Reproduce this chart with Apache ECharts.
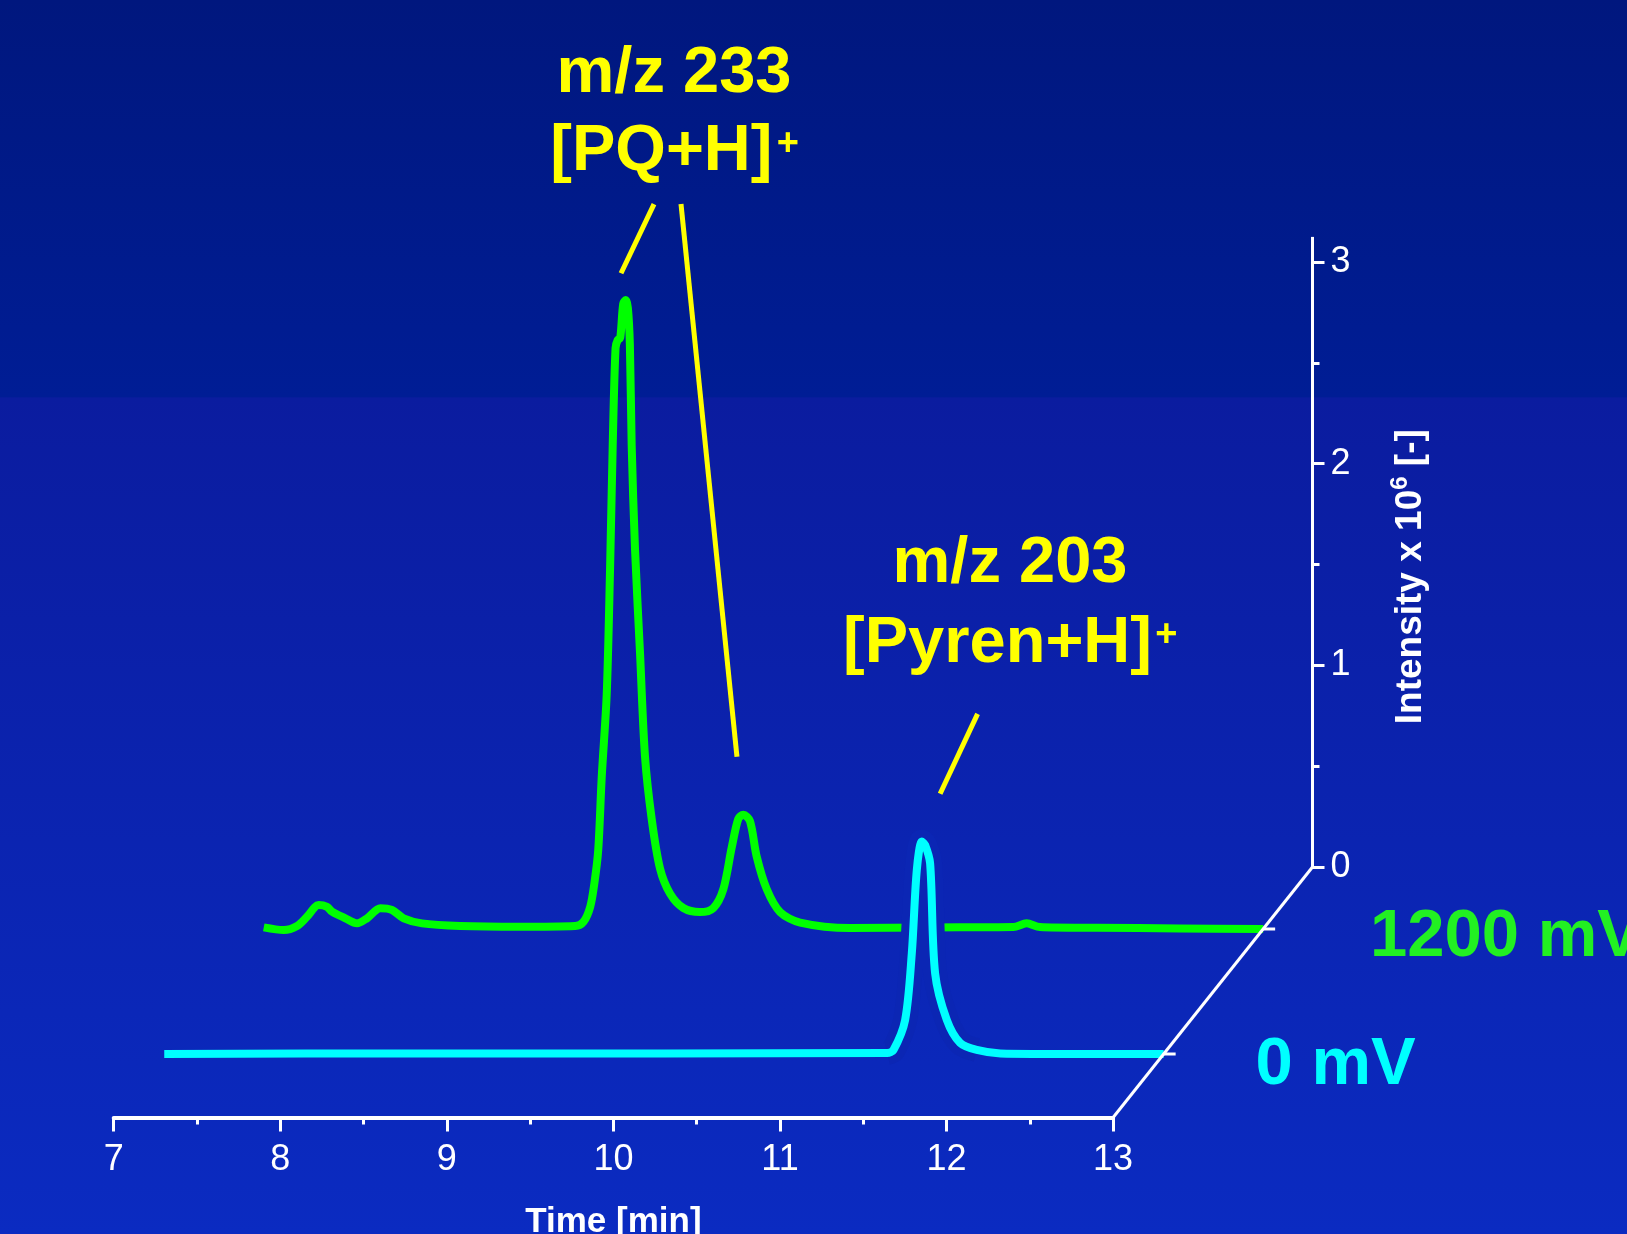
<!DOCTYPE html>
<html><head><meta charset="utf-8">
<script src="https://cdn.jsdelivr.net/npm/echarts@6/dist/echarts.min.js"></script>
<style>html,body{margin:0;padding:0;background:#0b22aa;overflow:hidden}#c{width:1627px;height:1234px}</style>
</head><body><div id="c"></div>
<script>
// ---------- data ----------
const greenTime = [7.00,7.12,7.20,7.26,7.33,7.38,7.41,7.49,7.56,7.62,7.70,7.77,7.84,7.95,8.18,8.53,8.87,8.92,8.96,8.985,9.008,9.029,9.059,9.079,9.095,9.112,9.125,9.14,9.158,9.173,9.186,9.198,9.209,9.229,9.259,9.289,9.329,9.379,9.439,9.519,9.619,9.699,9.759,9.809,9.849,9.879,9.919,9.959,10.02,10.10,10.22,10.52,11.0,11.50,11.58,11.66,12.0,12.5,13.0];
const greenInt  = [0.008,-0.005,0.015,0.061,0.119,0.110,0.086,0.053,0.028,0.053,0.103,0.094,0.053,0.028,0.015,0.011,0.015,0.036,0.110,0.227,0.390,0.752,1.163,1.780,2.396,2.880,2.920,2.930,3.100,3.118,3.080,2.900,2.396,1.882,1.368,0.854,0.546,0.300,0.176,0.104,0.084,0.104,0.197,0.402,0.546,0.567,0.535,0.361,0.197,0.084,0.032,0.005,0.008,0.010,0.028,0.010,0.006,0.003,0.000];
const cyanTime  = [7.0,8.5,10.0,11.34,11.378,11.448,11.488,11.518,11.548,11.568,11.598,11.628,11.698,11.778,11.878,12.02,12.5,13.0];
const cyanInt   = [0.000,0.003,0.003,0.005,0.020,0.169,0.499,0.912,1.053,1.036,0.945,0.400,0.169,0.055,0.020,0.003,0.000,0.000];
const timeTicks = [7,8,9,10,11,12,13];
const intensityTicks = [0,1,2,3];
// leader lines (data coordinates of each trace)
const greenLeaders = [[[9.343,3.594],[9.145,3.251]],[[9.505,3.594],[9.841,0.854]]];
const cyanLeaders  = [[[11.883,1.686],[11.658,1.29]]];

// ---------- layout ----------
const FONT = 'Liberation Sans, Arial, sans-serif';
const FRONT_LEFT = 113.7, AXIS_W = 999.4, FRONT_BASE = 1117.5;
const DEPTH_DX = 199.4, DEPTH_DY = -250.5, PX_PER_UNIT = 201.7;
const DEPTH_CYAN = 0.2535, DEPTH_GREEN = 0.7525;
const TRACE_MAX = 4;
const BAND_COLOR = '#0b26b4';

function traceGrid(d){
  const base = FRONT_BASE + d*DEPTH_DY;
  return {left: FRONT_LEFT + d*DEPTH_DX, width: AXIS_W, top: base - TRACE_MAX*PX_PER_UNIT, height: TRACE_MAX*PX_PER_UNIT, outerBoundsMode:'none', containLabel:false};
}
const backX = FRONT_LEFT + AXIS_W + DEPTH_DX, backBase = FRONT_BASE + DEPTH_DY;

const zip = (a,b) => a.map((v,i)=>[v,b[i]]);
const greenData = zip(greenTime, greenInt);
const cyanData = zip(cyanTime, cyanInt);
const bandData = cyanData.filter(p => p[0] >= 11.3 && p[0] <= 11.95);
const toMark = arr => arr.map(l => [{coord:l[0]},{coord:l[1]}]);

const white = '#ffffff';
const leaderStyle = {color:'#ffff00', width:5, type:'solid', cap:'butt'};

const chart = echarts.init(document.getElementById('c'), null, {renderer:'canvas', width:1627, height:1234});

const option = {
  animation:false,
  backgroundColor:{type:'linear', x:0, y:0, x2:0, y2:1, colorStops:[
    {offset:0, color:'#00177e'},{offset:0.3215, color:'#001d95'},
    {offset:0.3225, color:'#0b1c9f'},{offset:1, color:'#0b2bc1'}]},
  grid:[
    {left:FRONT_LEFT, width:AXIS_W, top:FRONT_BASE-100, height:100, outerBoundsMode:'none', containLabel:false},
    traceGrid(DEPTH_CYAN),
    traceGrid(DEPTH_GREEN),
    {left:backX, width:200, top:backBase-3*PX_PER_UNIT, height:3*PX_PER_UNIT, outerBoundsMode:'none', containLabel:false}
  ],
  xAxis:[
    {gridIndex:0, type:'value', min:timeTicks[0], max:timeTicks[timeTicks.length-1], interval:1, position:'bottom',
     axisLine:{show:true, onZero:false, lineStyle:{color:white, width:4}},
     axisTick:{show:true, inside:false, length:14, lineStyle:{color:white, width:3}},
     minorTick:{show:true, splitNumber:2, length:7, lineStyle:{color:white, width:3}},
     axisLabel:{color:white, fontSize:36, fontFamily:FONT, margin:25},
     splitLine:{show:false},
     name:'Time [min]', nameLocation:'middle', nameGap:87,
     nameTextStyle:{color:white, fontSize:35, fontWeight:'bold', fontFamily:FONT}},
    {gridIndex:1, type:'value', min:7, max:13, show:false, splitLine:{show:false}},
    {gridIndex:2, type:'value', min:7, max:13, show:false, splitLine:{show:false}},
    {gridIndex:3, type:'value', min:0, max:1, show:false, splitLine:{show:false}}
  ],
  yAxis:[
    {gridIndex:0, type:'value', min:0, max:1, show:false, splitLine:{show:false}},
    {gridIndex:1, type:'value', min:0, max:TRACE_MAX, show:false, splitLine:{show:false}},
    {gridIndex:2, type:'value', min:0, max:TRACE_MAX, show:false, splitLine:{show:false}},
    {gridIndex:3, type:'value', position:'left', min:intensityTicks[0], max:intensityTicks[intensityTicks.length-1], interval:1,
     axisLine:{show:true, onZero:false, lineStyle:{color:white, width:3}},
     axisTick:{show:true, inside:true, length:12, lineStyle:{color:white, width:3}},
     minorTick:{show:true, splitNumber:2, length:7, lineStyle:{color:white, width:3}},
     axisLabel:{show:true, inside:true, color:white, fontSize:36, fontFamily:FONT, margin:18},
     splitLine:{show:false}, minorSplitLine:{show:false}}
  ],
  series:[
    {name:'1200 mV', type:'line', xAxisIndex:2, yAxisIndex:2, data:greenData, symbol:'none', showSymbol:false,
     smooth:0.3, clip:false, z:2, silent:true, emphasis:{disabled:true},
     lineStyle:{color:'#00ff00', width:8, cap:'butt', join:'round'},
     markLine:{silent:true, symbol:['none','none'], label:{show:false}, lineStyle:leaderStyle, emphasis:{disabled:true}, data:toMark(greenLeaders)}},
    {name:'band', type:'line', xAxisIndex:1, yAxisIndex:1, data:bandData, symbol:'none', showSymbol:false,
     smooth:0.3, clip:false, z:3, silent:true, emphasis:{disabled:true},
     lineStyle:{color:BAND_COLOR, width:24, cap:'butt', join:'round'}},
    {name:'0 mV', type:'line', xAxisIndex:1, yAxisIndex:1, data:cyanData, symbol:'none', showSymbol:false,
     smooth:0.3, clip:false, z:4, silent:true, emphasis:{disabled:true},
     lineStyle:{color:'#00ffff', width:8, cap:'butt', join:'round'},
     markLine:{silent:true, symbol:['none','none'], label:{show:false}, lineStyle:leaderStyle, emphasis:{disabled:true}, data:toMark(cyanLeaders)}}
  ]
};
chart.setOption(option);

// depth axis + annotations
const pFront = chart.convertToPixel({xAxisIndex:0, yAxisIndex:0}, [13, 0]);
const pBack  = chart.convertToPixel({xAxisIndex:3, yAxisIndex:3}, [0, 0]);
const pTop   = chart.convertToPixel({xAxisIndex:3, yAxisIndex:3}, [0, 3]);
const pCyan  = chart.convertToPixel({xAxisIndex:1, yAxisIndex:1}, [13, 0]);
const pGreen = chart.convertToPixel({xAxisIndex:2, yAxisIndex:2}, [13, 0]);

const txt = (text, x, y, fs, color, align) => ({type:'text', x:x, y:y, z:10, silent:true,
  style:{text:text, fill:color, font:'bold '+fs+'px '+FONT, textAlign:align||'center', textVerticalAlign:'middle', verticalAlign:'middle'}});
const seg = (a, b, w) => ({type:'line', z:10, silent:true, shape:{x1:a[0], y1:a[1], x2:b[0], y2:b[1]}, style:{stroke:white, lineWidth:w}});

chart.setOption({graphic:[
  seg(pFront, pBack, 3),
  seg([pTop[0], pTop[1]], [pTop[0], pTop[1]-25], 3),
  seg(pCyan, [pCyan[0]+12, pCyan[1]], 3),
  seg(pGreen, [pGreen[0]+12, pGreen[1]], 3),
  txt('m/z 233', 674, 74, 65, '#ffff00'),
  txt('[PQ+H]', 661.4, 152.2, 65, '#ffff00'),
  txt('+', 776.8, 144.5, 38, '#ffff00', 'left'),
  txt('m/z 203', 1010, 564.3, 65, '#ffff00'),
  txt('[Pyren+H]', 997.5, 643.9, 65, '#ffff00'),
  txt('+', 1155.2, 635.3, 38, '#ffff00', 'left'),
  txt('1200 mV', 1370, 938, 67, '#22f022', 'left'),
  txt('0 mV', 1255.6, 1066, 67, '#00ffff', 'left'),
  {type:'text', x:1410.5, y:576.7, rotation:Math.PI/2, z:10, silent:true,
   style:{text:'{a|Intensity x 10}{s|6}{a| [-]}', fill:white, textAlign:'center', verticalAlign:'middle', textVerticalAlign:'middle',
     rich:{a:{fontSize:37, fontWeight:'bold', fontFamily:FONT, fill:white, lineHeight:44},
           s:{fontSize:24, fontWeight:'bold', fontFamily:FONT, fill:white, lineHeight:30, verticalAlign:'top'}}}}
]});
</script>
</body></html>
